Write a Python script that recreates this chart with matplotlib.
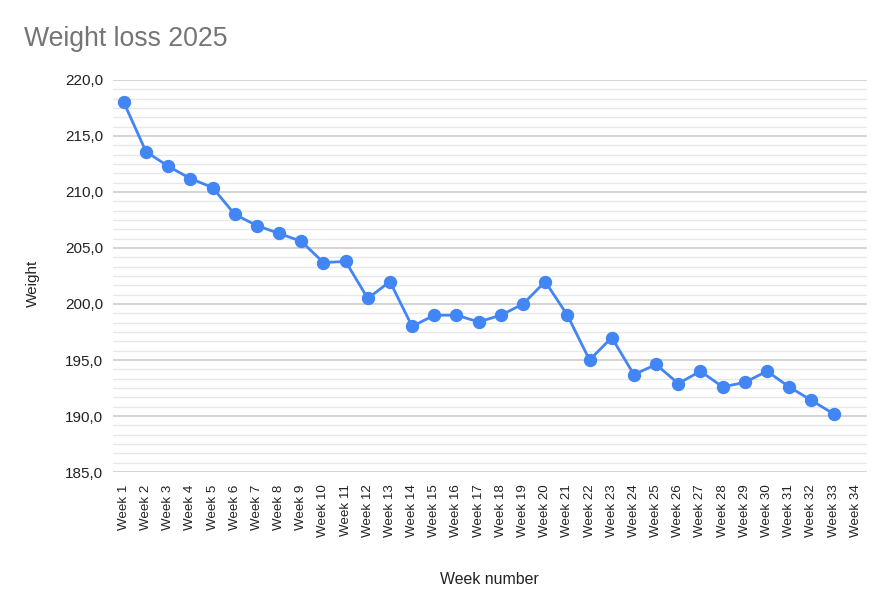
import numpy as np
import matplotlib.pyplot as plt
from matplotlib.ticker import MultipleLocator, FixedLocator, FuncFormatter

# weekly weigh-ins (week 34 not yet recorded)
weeks = ['Week %d' % i for i in range(1, 35)]
weight = [218.0, 213.6, 212.3, 211.2, 210.4, 208.0, 207.0, 206.3, 205.6, 203.7,
          203.8, 200.5, 202.0, 198.0, 199.0, 199.0, 198.4, 199.0, 200.0, 202.0,
          199.0, 195.0, 197.0, 193.7, 194.6, 192.9, 194.0, 192.6, 193.0, 194.0,
          192.6, 191.4, 190.2]

plt.rcParams['font.family'] = ['Liberation Sans', 'DejaVu Sans']

fig = plt.figure(figsize=(8.89, 6.10), dpi=100)
ax = fig.add_axes([0.1268, 0.2262, 0.8482, 0.6427])

x = np.arange(len(weight))
ax.plot(x, weight, '-o', color='#4285F4', linewidth=2, markersize=8.6, zorder=3)

ax.set_xlim(-0.5, len(weeks) - 0.5)
ax.set_ylim(185, 220)
ax.set_xticks(np.arange(len(weeks)))
ax.set_xticklabels(weeks, rotation=90, fontsize=9.6, color='#222222')

ax.yaxis.set_major_locator(MultipleLocator(5))
ax.yaxis.set_major_formatter(FuncFormatter(lambda v, p: ('%.1f' % v).replace('.', ',')))
minor = [185 + k * 5 / 6 for k in range(43) if k % 6]
ax.yaxis.set_minor_locator(FixedLocator(minor))
ax.tick_params(axis='y', which='both', length=0, pad=7, labelsize=11, labelcolor='#222222')
ax.tick_params(axis='x', length=0, pad=9)

ax.grid(axis='y', which='major', color='#c8c8c8', linewidth=1.1)
ax.grid(axis='y', which='minor', color='#e8e8e8', linewidth=1.0)
ax.set_axisbelow(True)
for s in ax.spines.values():
    s.set_visible(False)

ax.set_ylabel('Weight', fontsize=11, color='#222222')
ax.yaxis.set_label_coords(-0.097, 0.48)
ax.set_xlabel('Week number', fontsize=11.4, color='#222222')
ax.xaxis.set_label_coords(0.5, -0.255)

fig.text(24 / 889, 1 - 46 / 610, 'Weight loss 2025', fontsize=19.2, color='#757575',
         ha='left', va='baseline')

plt.savefig('out.png', dpi=100)
